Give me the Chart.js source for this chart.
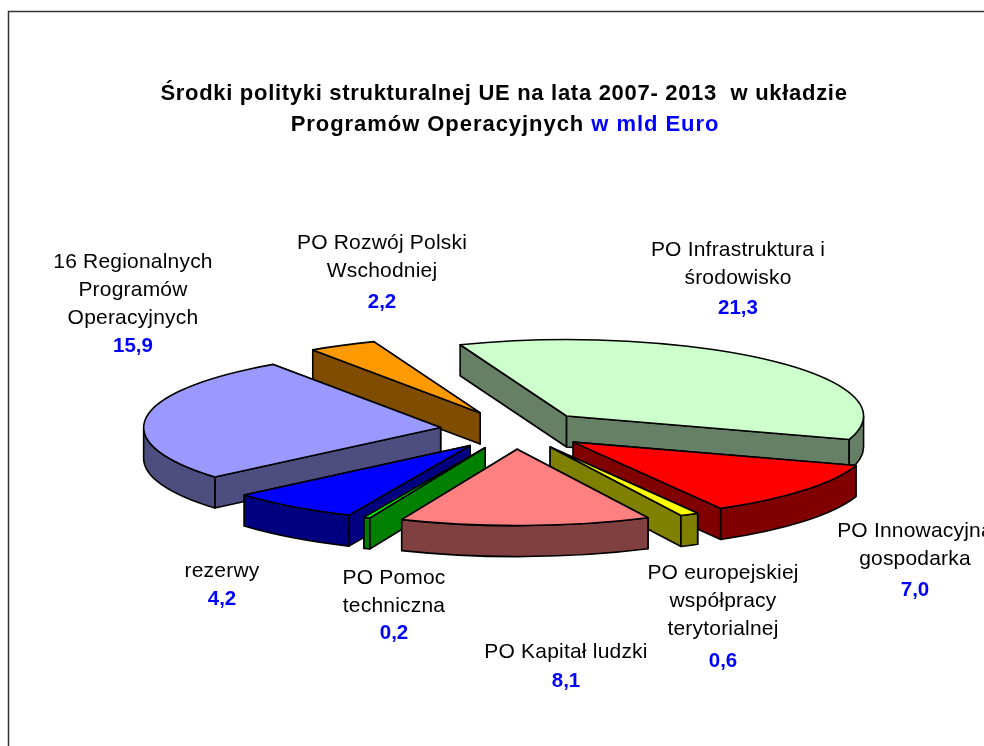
<!DOCTYPE html>
<html>
<head>
<meta charset="utf-8">
<style>
    html, body { margin: 0; padding: 0; background: #fff; overflow: hidden; }
    canvas { display: block; }
</style>
<script src="https://cdn.jsdelivr.net/npm/chart.js@4/dist/chart.umd.min.js"></script>
</head>
<body>
<canvas id="pieChart" width="984" height="746"></canvas>
<script>
// Values in mld Euro, clockwise from the top
const categories = [
    ['PO Infrastruktura i', 'środowisko'],
    ['PO Innowacyjna', 'gospodarka'],
    ['PO europejskiej', 'współpracy', 'terytorialnej'],
    ['PO Kapitał ludzki'],
    ['PO Pomoc', 'techniczna'],
    ['rezerwy'],
    ['16 Regionalnych', 'Programów', 'Operacyjnych'],
    ['PO Rozwój Polski', 'Wschodniej']
];
const values = [21.3, 7.0, 0.6, 8.1, 0.2, 4.2, 15.9, 2.2];

const topColors = ['#CCFFCC', '#FF0000', '#FFFF00', '#FF8080', '#00FF00', '#0000FF', '#9999FF', '#FF9900'];
const sideColors = ['#668066', '#800000', '#808000', '#804040', '#008000', '#000080', '#4D4D80', '#804D00'];

// Label anchors: centre x, baseline of the first line, baseline of the value
const labelX = [738, 915, 723, 566, 394, 222, 133, 382];
const labelY = [256, 537, 579, 658, 584, 577, 268, 249];
const valueY = [314, 596, 667, 687, 639, 605, 352, 308];
const lineGap = 28;

// Pie is drawn round by Chart.js and squashed to an ellipse here
const centerX = 515;
const centerY = 430;
const squash = 0.257;
const depth = 31;
const explode = 75;
const radius = 297;

function valueLabel(v) {
    return v.toFixed(1).replace('.', ',');
}

// Screen geometry of one arc
function sliceGeometry(chart, arc) {
    const area = chart.chartArea;
    const cx = (area.left + area.right) / 2;
    const cy = (area.top + area.bottom) / 2;
    return {
        x: centerX + arc.x - cx,
        y: centerY + (arc.y - cy) * squash,
        rx: arc.outerRadius,
        ry: arc.outerRadius * squash,
        start: arc.startAngle,
        end: arc.endAngle
    };
}

function drawFace(ctx, g, angle, color) {
    const rimX = g.x + Math.cos(angle) * g.rx;
    const rimY = g.y + Math.sin(angle) * g.ry;
    ctx.beginPath();
    ctx.moveTo(g.x, g.y);
    ctx.lineTo(rimX, rimY);
    ctx.lineTo(rimX, rimY + depth);
    ctx.lineTo(g.x, g.y + depth);
    ctx.closePath();
    ctx.fillStyle = color;
    ctx.fill();
    ctx.stroke();
}

function drawWall(ctx, g, color) {
    // Only the part of the rim on the front half of the ellipse shows
    for (let k = -1; k <= 1; k++) {
        const a0 = Math.max(g.start + k * 2 * Math.PI, 0);
        const a1 = Math.min(g.end + k * 2 * Math.PI, Math.PI);
        if (a1 <= a0) continue;
        ctx.beginPath();
        ctx.ellipse(g.x, g.y, g.rx, g.ry, 0, a0, a1);
        ctx.ellipse(g.x, g.y + depth, g.rx, g.ry, 0, a1, a0, true);
        ctx.closePath();
        ctx.fillStyle = color;
        ctx.fill();
        ctx.stroke();
    }
}

const pie3d = {
    id: 'pie3d',
    afterDatasetsUpdate(chart) {
        // Pull every slice out along its middle angle
        chart.getDatasetMeta(0).data.forEach(arc => {
            const mid = (arc.startAngle + arc.endAngle) / 2;
            arc.x += Math.cos(mid) * explode;
            arc.y += Math.sin(mid) * explode;
        });
    },
    beforeDatasetDraw(chart, args) {
        const ctx = chart.ctx;
        const arcs = args.meta.data;
        ctx.save();
        ctx.lineWidth = 1.6;
        ctx.strokeStyle = '#000';
        ctx.lineJoin = 'round';
        // Sides first, back to front
        const order = arcs.map((arc, i) => i)
            .sort((a, b) => arcs[a].y - arcs[b].y);
        order.forEach(i => {
            const g = sliceGeometry(chart, arcs[i]);
            const faces = [g.start, g.end].sort((a, b) => Math.sin(a) - Math.sin(b));
            faces.forEach(angle => drawFace(ctx, g, angle, sideColors[i]));
            drawWall(ctx, g, sideColors[i]);
        });
        ctx.restore();
        // Tops come from the chart itself, under the squash transform
        const area = chart.chartArea;
        ctx.save();
        ctx.translate(centerX, centerY);
        ctx.scale(1, squash);
        ctx.translate(-(area.left + area.right) / 2, -(area.top + area.bottom) / 2);
    },
    afterDatasetDraw(chart, args) {
        const ctx = chart.ctx;
        ctx.restore();
        ctx.save();
        ctx.lineWidth = 1.6;
        ctx.strokeStyle = '#000';
        ctx.lineJoin = 'round';
        args.meta.data.forEach(arc => {
            const g = sliceGeometry(chart, arc);
            ctx.beginPath();
            ctx.moveTo(g.x, g.y);
            ctx.ellipse(g.x, g.y, g.rx, g.ry, 0, g.start, g.end);
            ctx.closePath();
            ctx.stroke();
        });
        ctx.restore();
    },
    afterDraw(chart) {
        const ctx = chart.ctx;
        ctx.save();

        // Frame runs off the right and bottom of the picture
        ctx.strokeStyle = '#333';
        ctx.lineWidth = 1.5;
        ctx.strokeRect(8.5, 11.5, 1200, 1200);

        // Title
        ctx.textBaseline = 'alphabetic';
        ctx.font = 'bold 22px "Liberation Sans", Arial, sans-serif';
        ctx.letterSpacing = '0.7px';
        ctx.fillStyle = '#000';
        ctx.textAlign = 'center';
        ctx.fillText('Środki polityki strukturalnej UE na lata 2007- 2013  w układzie', 504, 100);
        ctx.letterSpacing = '0.95px';
        const partA = 'Programów Operacyjnych ';
        const partB = 'w mld Euro';
        const wA = ctx.measureText(partA).width;
        const wB = ctx.measureText(partB).width;
        const x0 = 505 - (wA + wB) / 2;
        ctx.textAlign = 'left';
        ctx.fillText(partA, x0, 131);
        ctx.fillStyle = '#0000FF';
        ctx.fillText(partB, x0 + wA, 131);

        // Slice labels
        ctx.textAlign = 'center';
        categories.forEach((lines, i) => {
            ctx.font = '21px "Liberation Sans", Arial, sans-serif';
            ctx.letterSpacing = '0.2px';
            ctx.fillStyle = '#000';
            lines.forEach((line, j) => ctx.fillText(line, labelX[i], labelY[i] + j * lineGap));
            ctx.font = 'bold 20.5px "Liberation Sans", Arial, sans-serif';
            ctx.letterSpacing = '0px';
            ctx.fillStyle = '#0000FF';
            ctx.fillText(valueLabel(values[i]), labelX[i], valueY[i]);
        });
        ctx.restore();
    }
};

new Chart(document.getElementById('pieChart').getContext('2d'), {
    type: 'pie',
    data: {
        labels: categories.map(lines => lines.join(' ')),
        datasets: [{
            data: values,
            backgroundColor: topColors,
            borderWidth: 0,
            clip: false
        }]
    },
    options: {
        responsive: false,
        animation: false,
        radius: radius,
        rotation: -21,
        events: [],
        layout: { padding: 0 },
        plugins: {
            legend: { display: false },
            title: { display: false },
            tooltip: { enabled: false }
        }
    },
    plugins: [pie3d]
});
</script>
</body>
</html>
